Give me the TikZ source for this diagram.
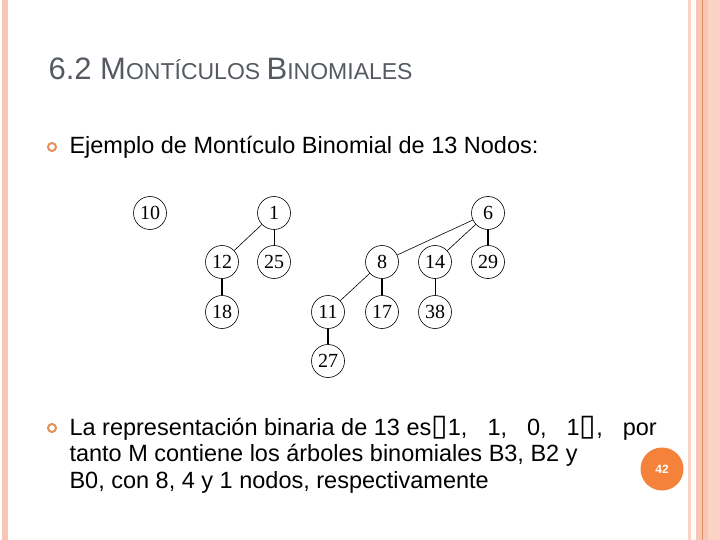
\documentclass[tikz,border=0pt]{standalone}
\usepackage{fontspec}
\setmainfont{Liberation Sans}
\newfontfamily\keyfont{Liberation Serif}
\newfontfamily\boxfont{DejaVu Sans}
\usetikzlibrary{positioning}
\definecolor{titlegray}{HTML}{555A60}
\definecolor{stripepink}{HTML}{F8C6B4}
\definecolor{stripelight}{HTML}{FAD3C5}
\definecolor{stripeline}{HTML}{E2926A}
\definecolor{ringorange}{HTML}{E2925C}
\definecolor{pageorange}{HTML}{F5823A}
\newcommand{\gapbox}{{\boxfont\fontsize{30}{30}\selectfont\symbol{"25AF}}}

\begin{document}
\begin{tikzpicture}[x=1pt, y=-1pt, on grid,
    key/.style={circle, draw, line width=0.6pt, minimum size=33pt, inner sep=0pt,
      font=\keyfont\fontsize{20}{20}\selectfont},
    thin link/.style={line width=0.6pt},
    thick link/.style={line width=1.5pt},
    bullet/.style={circle, draw=ringorange, line width=2pt, minimum size=8pt, inner sep=0pt},
    slide text/.style={anchor=base west, font=\fontsize{23.5}{23.5}\selectfont}]
  \useasboundingbox (0,0) rectangle (720,540);
  % side stripes
  \fill[stripepink] (2,0) rectangle (8,540);
  \fill[stripelight] (688,0) rectangle (691,540);
  \fill[stripepink] (696,0) rectangle (720,540);
  \fill[stripelight] (708,0) rectangle (720,540);
  \fill[stripeline] (702,0) rectangle (703.2,540);

  % title
  \node (title) [anchor=base west, text=titlegray] at (45,80)
    {\fontsize{31}{31}\selectfont 6.2 M\fontsize{23}{23}\selectfont ONTÍCULOS
     \fontsize{31}{31}\selectfont B\fontsize{23}{23}\selectfont INOMIALES};

  % first bullet
  \node (b1) [bullet] at (52,147) {};
  \node (intro) [slide text] at (66,154) {Ejemplo de Montículo Binomial de 13 Nodos:};

  % binomial trees
  \node (k10) [key] at (150,213) {10};
  \node (k1) [key] at (274,213) {1};
  \node (k6) [key] at (488,213) {6};
  \node (k12) [key, below left=49pt and 52pt of k1] {12};
  \node (k25) [key, below=49pt of k1] {25};
  \node (k18) [key, below=50pt of k12] {18};
  \node (k29) [key, below=49pt of k6] {29};
  \node (k14) [key, left=53pt of k29] {14};
  \node (k8) [key, left=53pt of k14] {8};
  \node (k38) [key, below=50pt of k14] {38};
  \node (k17) [key, below=50pt of k8] {17};
  \node (k11) [key, left=54pt of k17] {11};
  \node (k27) [key, below=49pt of k11] {27};
  \draw[thin link] (k1) -- (k12);
  \draw[thin link] (k1) -- (k25);
  \draw[thick link] (k12) -- (k18);
  \draw[thin link] (k6) -- (k8);
  \draw[thin link] (k6) -- (k14);
  \draw[thick link] (k6) -- (k29);
  \draw[thin link] (k8) -- (k11);
  \draw[thick link] (k8) -- (k17);
  \draw[thin link] (k14) -- (k38);
  \draw[thick link] (k11) -- (k27);

  % second bullet
  \node (b2) [bullet] at (52,428) {};
  \node (line1) [slide text] at (66,435)
    {La representación binaria de 13 es\gapbox1,\hspace{20pt}1,\hspace{20pt}0,\hspace{20pt}1\gapbox,\hspace{20pt}por};
  \node (line2) [slide text] at (66,461.5) {tanto M contiene los árboles binomiales B3, B2 y};
  \node (line3) [slide text] at (66,488) {B0, con 8, 4 y 1 nodos, respectivamente};

  % page number
  \node (pagenum) [circle, fill=pageorange, minimum size=43pt, inner sep=0pt, text=white,
    font=\bfseries\fontsize{12}{12}\selectfont] at (662,469) {42};
\end{tikzpicture}
\end{document}
